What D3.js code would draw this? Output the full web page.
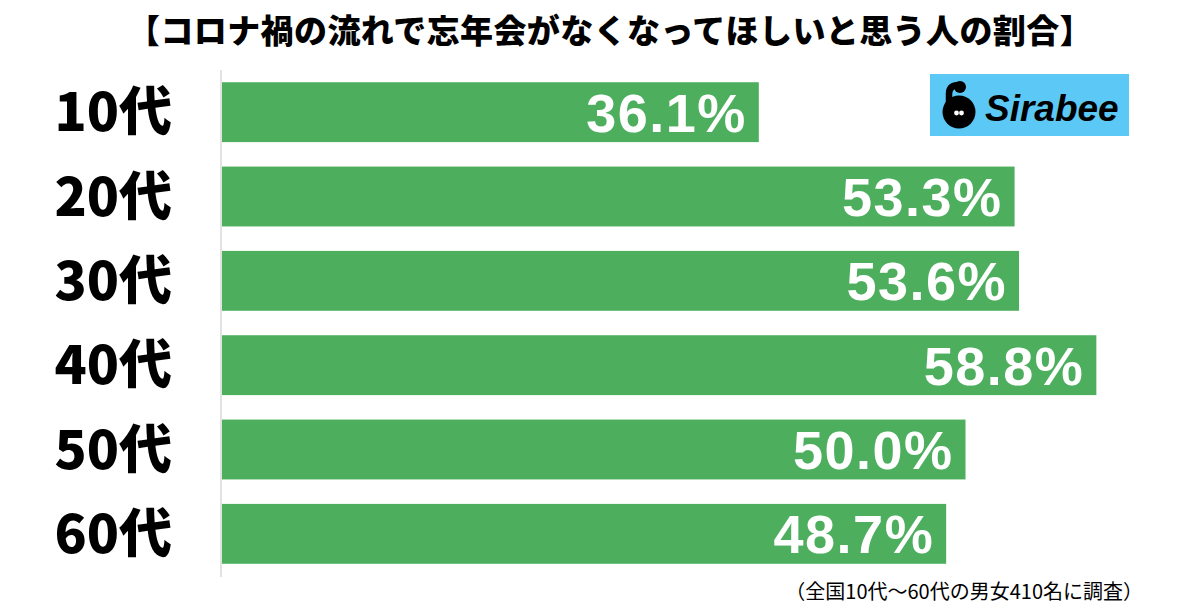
<!DOCTYPE html>
<html>
<head>
<meta charset="utf-8">
<script src="https://cdn.jsdelivr.net/npm/d3@7"></script>
<style>
  body { margin: 0; background: #fff; }
  svg { display: block; font-family: "Noto Sans CJK JP", "Noto Sans", sans-serif; }
</style>
</head>
<body>
<div class="chart"></div>
<script>
const categories = ["10代", "20代", "30代", "40代", "50代", "60代"];
const values = [36.1, 53.3, 53.6, 58.8, 50.0, 48.7];
const title = "【コロナ禍の流れで忘年会がなくなってほしいと思う人の割合】";
const note = "（全国10代〜60代の男女410名に調査）";

const data = categories.map((c, i) => ({ cat: c, value: values[i] }));

const width = 1200;
const height = 607;

const svg = d3.select(".chart")
    .append("svg")
    .attr("width", width)
    .attr("height", height);

const x = d3.scaleLinear()
    .domain([0, 100])
    .range([222, 222 + 1487]);

const y = d3.scaleBand()
    .domain(categories)
    .range([70, 576])
    .paddingInner(0.29)
    .paddingOuter(0.145);

// title
svg.append("text")
    .attr("x", 610)
    .attr("y", 31)
    .attr("dy", "0.35em")
    .attr("text-anchor", "middle")
    .attr("font-size", 33)
    .attr("font-weight", 900)
    .attr("letter-spacing", 0.4)
    .attr("fill", "#000")
    .text(title);

// bars
svg.append("g")
    .selectAll("rect")
    .data(data)
    .join("rect")
    .attr("x", x(0))
    .attr("y", d => y(d.cat))
    .attr("width", d => x(d.value) - x(0))
    .attr("height", y.bandwidth())
    .attr("fill", "#4daf5e");

// axis line
svg.append("line")
    .attr("x1", 221).attr("x2", 221)
    .attr("y1", 70).attr("y2", 577)
    .attr("stroke", "#d9d9d9")
    .attr("stroke-width", 1.5);

// category labels
svg.append("g")
    .selectAll("text")
    .data(data)
    .join("text")
    .attr("x", 172)
    .attr("y", d => y(d.cat) + y.bandwidth() / 2)
    .attr("dy", "0.36em")
    .attr("text-anchor", "end")
    .attr("font-size", 53)
    .attr("font-weight", 900)
    .attr("fill", "#000")
    .text(d => d.cat);

// value labels
svg.append("g")
    .selectAll("text")
    .data(data)
    .join("text")
    .attr("x", d => x(d.value) - 12)
    .attr("y", d => y(d.cat) + y.bandwidth() / 2)
    .attr("dy", "0.36em")
    .attr("text-anchor", "end")
    .attr("font-family", "'Liberation Sans', Arial, sans-serif")
    .attr("font-size", 54)
    .attr("font-weight", "bold")
    .attr("letter-spacing", 1.5)
    .attr("fill", "#fff")
    .text(d => d.value.toFixed(1) + "%");

// logo
const logo = svg.append("g");
logo.append("rect")
    .attr("x", 930).attr("y", 74)
    .attr("width", 199).attr("height", 62)
    .attr("fill", "#5bc8f5");
logo.append("circle")
    .attr("cx", 959).attr("cy", 112).attr("r", 16.5)
    .attr("fill", "#000");
logo.append("path")
    .attr("d", "M949,106 L949,94 Q949,85 959,85")
    .attr("fill", "none")
    .attr("stroke", "#000")
    .attr("stroke-width", 6.5)
    .attr("stroke-linecap", "round");
logo.append("circle").attr("cx", 960).attr("cy", 87).attr("r", 6).attr("fill", "#000");
logo.append("circle").attr("cx", 956.5).attr("cy", 113).attr("r", 2.4).attr("fill", "#fff");
logo.append("circle").attr("cx", 961.5).attr("cy", 113).attr("r", 2.4).attr("fill", "#fff");
logo.append("text")
    .attr("x", 985)
    .attr("y", 108)
    .attr("dy", "0.35em")
    .attr("font-family", "'Liberation Sans', Arial, sans-serif")
    .attr("font-size", 37)
    .attr("font-weight", "bold")
    .attr("font-style", "italic")
    .attr("fill", "#000")
    .text("Sirabee");

// footnote
svg.append("text")
    .attr("x", 1143)
    .attr("y", 592)
    .attr("dy", "0.35em")
    .attr("text-anchor", "end")
    .attr("font-size", 20)
    .attr("fill", "#000")
    .text(note);
</script>
</body>
</html>
